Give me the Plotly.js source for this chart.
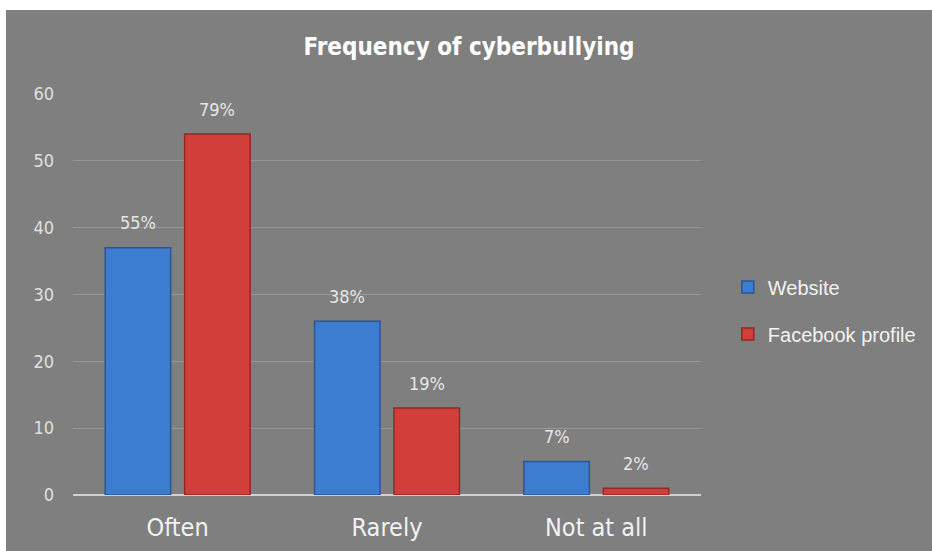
<!DOCTYPE html>
<html>
<head>
<meta charset="utf-8">
<script src="https://cdn.plot.ly/plotly-3.0.1.min.js"></script>
<style>
  html, body { margin: 0; padding: 0; background: #ffffff; width: 932px; height: 551px; overflow: hidden; }
  #chart { position: absolute; left: 6px; top: 10px; width: 926px; height: 541px; }
</style>
</head>
<body>
<div id="chart"></div>
<script>
// ---- data ----
const categories = ["Often", "Rarely", "Not at all"];
const seriesNames = ["Website", "Facebook profile"];
const websiteValues = [37, 26, 5];
const facebookValues = [54, 13, 1];
const websiteLabels = ["55%", "38%", "7%"];
const facebookLabels = ["79%", "19%", "2%"];
const yTicks = [0, 10, 20, 30, 40, 50, 60];

const narrow = "DejaVu Sans Condensed, Liberation Sans, Arial, sans-serif";
const regular = "Liberation Sans, Arial, sans-serif";

const traces = [
  {
    type: "bar", name: seriesNames[0], x: categories, y: websiteValues,
    legendgroup: "a",
    marker: { color: "#3d7dcf", line: { color: "#2a5596", width: 1.5 } },
    hoverinfo: "skip"
  },
  {
    type: "bar", name: seriesNames[1], x: categories, y: facebookValues,
    legendgroup: "b",
    marker: { color: "#d23f3b", line: { color: "#932826", width: 1.5 } },
    hoverinfo: "skip"
  }
];

const annotations = [];
categories.forEach((c, i) => {
  annotations.push({ x: c, y: websiteValues[i], xref: "x", yref: "y", text: websiteLabels[i],
    showarrow: false, xshift: -39.75, yshift: 25, yanchor: "middle",
    font: { family: narrow, size: 18, color: "#e6e6e6" } });
  annotations.push({ x: c, y: facebookValues[i], xref: "x", yref: "y", text: facebookLabels[i],
    showarrow: false, xshift: 39.75, yshift: 25, yanchor: "middle",
    font: { family: narrow, size: 18, color: "#e6e6e6" } });
});

const layout = {
  width: 926, height: 541,
  paper_bgcolor: "#7f7f7f", plot_bgcolor: "#7f7f7f",
  margin: { l: 67, r: 230, t: 84, b: 56 },
  title: {
    text: "<b>Frequency of cyberbullying</b>",
    font: { family: narrow, size: 24, color: "#ffffff" },
    x: 0.5, xref: "container", xanchor: "center",
    y: 1 - 37 / 541, yref: "container", yanchor: "middle"
  },
  barmode: "group",
  bargap: 0.241,
  bargroupgap: 0.176,
  xaxis: {
    type: "category",
    tickfont: { family: narrow, size: 25, color: "#f2f2f2" },
    showgrid: false, zeroline: false, showline: false,
    ticks: "", ticklabelstandoff: 15, fixedrange: true
  },
  yaxis: {
    range: [0, 60], tickvals: yTicks,
    tickfont: { family: narrow, size: 18, color: "#e0e0e0" },
    showgrid: true, gridcolor: "#979797", gridwidth: 1,
    zeroline: true, zerolinecolor: "#d0d0d0", zerolinewidth: 2,
    showline: false, ticks: "", ticklabelstandoff: 18, fixedrange: true
  },
  showlegend: true,
  legend: {
    x: 1.041, xanchor: "left", y: 0.46, yanchor: "middle",
    font: { family: regular, size: 20, color: "#f2f2f2" },
    bgcolor: "rgba(0,0,0,0)", tracegroupgap: 18, itemwidth: 30,
    traceorder: "grouped"
  },
  annotations: annotations
};

Plotly.newPlot("chart", traces, layout, { displayModeBar: false, staticPlot: true });
</script>
</body>
</html>
